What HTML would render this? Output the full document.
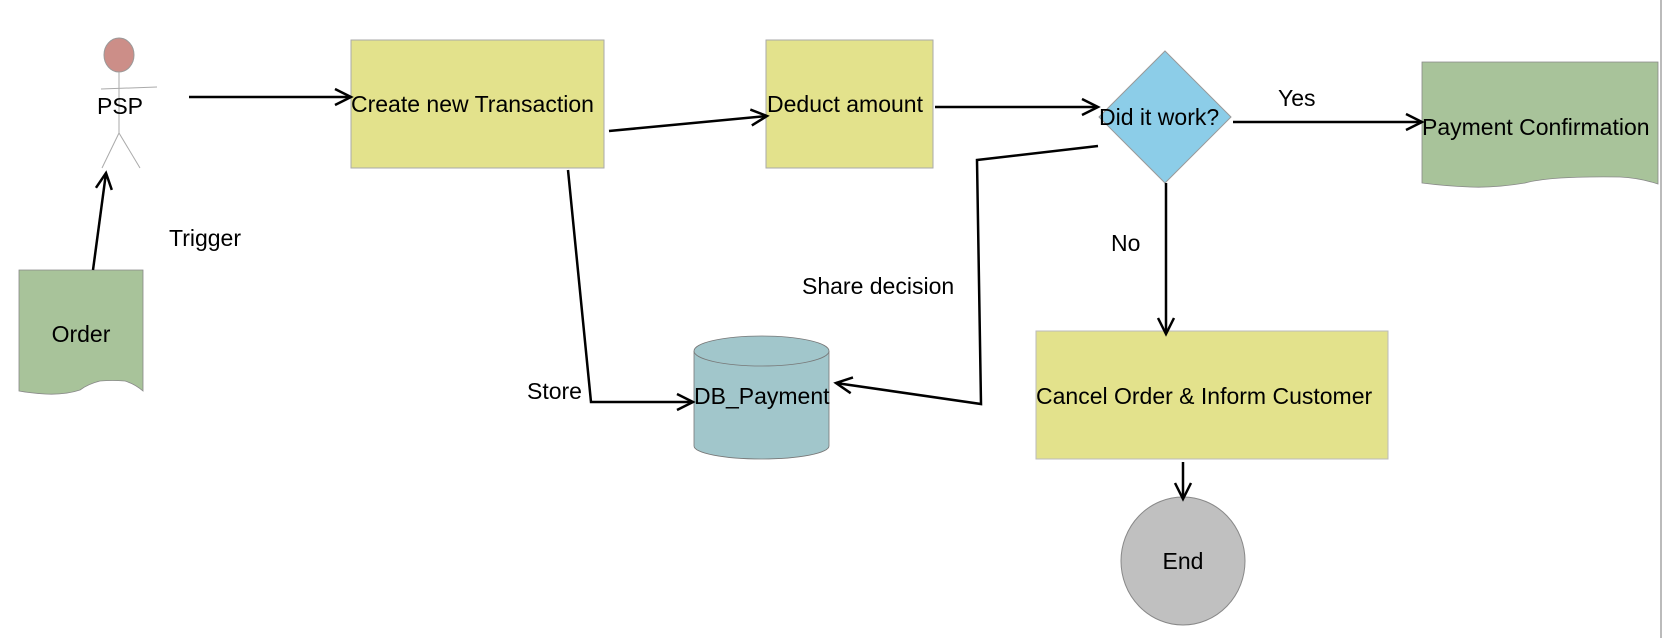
<!DOCTYPE html>
<html><head><meta charset="utf-8"><style>
html,body{margin:0;padding:0;background:#fff;width:1666px;height:638px;overflow:hidden}
svg{display:block}
text{font-family:"Liberation Sans",sans-serif;font-size:23px;fill:#000}
</style></head><body>
<svg width="1666" height="638" viewBox="0 0 1666 638" xmlns="http://www.w3.org/2000/svg">
<defs>
<marker id="a" markerWidth="22" markerHeight="22" refX="19" refY="11" orient="auto" markerUnits="userSpaceOnUse">
<path d="M3,3 L19,11 L3,19" fill="none" stroke="#000" stroke-width="2.5"/>
</marker>
</defs>
<line x1="1661" y1="0" x2="1661" y2="638" stroke="#bbb" stroke-width="2"/>

<!-- actor -->
<ellipse cx="119" cy="55" rx="15" ry="17" fill="#cc8e88" stroke="#999"/>
<line x1="119" y1="72" x2="119" y2="133" stroke="#aaa"/>
<line x1="101" y1="89" x2="157" y2="87" stroke="#aaa"/>
<line x1="119" y1="133" x2="102" y2="168" stroke="#aaa"/>
<line x1="119" y1="133" x2="140" y2="168" stroke="#aaa"/>
<text x="120" y="114" text-anchor="middle">PSP</text>

<!-- order -->
<path d="M19,270 H143 V391 Q135,384 125,381 Q112,380 100,381 Q88,384 80,390 Q65,395 45,394 Q30,393 19,391 Z" fill="#a8c39a" stroke="#888" stroke-width="0.8"/>
<text x="81" y="342" text-anchor="middle">Order</text>

<!-- rects -->
<rect x="351" y="40" width="253" height="128" fill="#e3e28c" stroke="#aaa"/>
<text x="351" y="112">Create new Transaction</text>
<rect x="766" y="40" width="167" height="128" fill="#e3e28c" stroke="#aaa"/>
<text x="767" y="112">Deduct amount</text>

<!-- diamond -->
<polygon points="1165,51 1231,117 1165,183 1099,117" fill="#8ccde8" stroke="#999"/>
<text x="1099" y="125">Did it work?</text>

<!-- payment confirmation -->
<path d="M1422,62 H1658 V184 Q1640,178 1620,177 Q1550,176 1525,183 Q1495,188 1470,187 Q1445,186 1422,183 Z" fill="#a8c39a" stroke="#888" stroke-width="0.8"/>
<text x="1422" y="135">Payment Confirmation</text>

<!-- DB cylinder -->
<path d="M694,351 V446 A67.5,13 0 0 0 829,446 V351" fill="#a1c6cb" stroke="#777" stroke-width="0.8"/>
<ellipse cx="761.5" cy="351" rx="67.5" ry="15" fill="#a1c6cb" stroke="#777" stroke-width="0.8"/>
<text x="694" y="404">DB_Payment</text>

<!-- cancel -->
<rect x="1036" y="331" width="352" height="128" fill="#e3e28c" stroke="#bbb"/>
<text x="1036" y="404">Cancel Order &amp; Inform Customer</text>

<!-- end -->
<ellipse cx="1183" cy="561" rx="62" ry="64" fill="#c0c0c0" stroke="#888"/>
<text x="1183" y="569" text-anchor="middle">End</text>

<!-- arrows -->
<g fill="none" stroke="#000" stroke-width="2.5">
<line x1="93" y1="270" x2="106" y2="173" marker-end="url(#a)"/>
<line x1="189" y1="97" x2="351" y2="97" marker-end="url(#a)"/>
<line x1="609" y1="131" x2="767" y2="116" marker-end="url(#a)"/>
<line x1="935" y1="107" x2="1098" y2="107" marker-end="url(#a)"/>
<line x1="1233" y1="122" x2="1422" y2="122" marker-end="url(#a)"/>
<line x1="1166" y1="183" x2="1166" y2="334" marker-end="url(#a)"/>
<line x1="1183" y1="462" x2="1183" y2="499" marker-end="url(#a)"/>
<polyline points="568,170 591,402 693,402" marker-end="url(#a)"/>
<polyline points="1098,146 977,160 981,404 836,383" marker-end="url(#a)"/>
</g>

<text x="169" y="246">Trigger</text>
<text x="527" y="399">Store</text>
<text x="802" y="294">Share decision</text>
<text x="1111" y="251">No</text>
<text x="1278" y="106">Yes</text>
</svg>
</body></html>
